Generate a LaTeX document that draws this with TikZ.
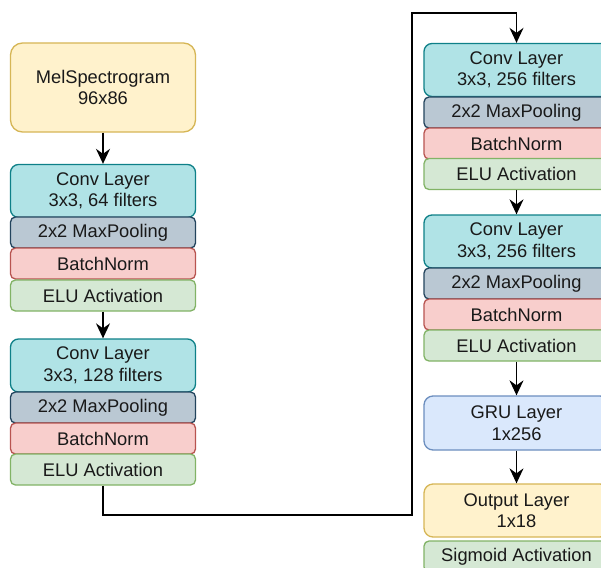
\documentclass[tikz,border=0pt]{standalone}
\usepackage{fontspec}
\setmainfont{Liberation Sans}
\usetikzlibrary{arrows.meta,positioning}

% draw.io style palette
\definecolor{ylwF}{HTML}{FFF2CC}\definecolor{ylwD}{HTML}{D6B656}
\definecolor{tealF}{HTML}{B0E3E6}\definecolor{tealD}{HTML}{0E8088}
\definecolor{slateF}{HTML}{BAC8D3}\definecolor{slateD}{HTML}{23445D}
\definecolor{redF}{HTML}{F8CECC}\definecolor{redD}{HTML}{B85450}
\definecolor{grnF}{HTML}{D5E8D4}\definecolor{grnD}{HTML}{82B366}
\definecolor{bluF}{HTML}{DAE8FC}\definecolor{bluD}{HTML}{6C8EBF}

\tikzset{
  layer/.style={draw, line width=1.3pt, minimum width=185pt, inner sep=0pt,
    align=center, text=black!90, font=\fontsize{18.3}{21.5}\selectfont},
  inputbox/.style={layer, fill=ylwF, draw=ylwD, minimum height=89pt, rounded corners=12pt},
  convbox/.style={layer, fill=tealF, draw=tealD, minimum height=53pt, rounded corners=8pt},
  poolbox/.style={layer, fill=slateF, draw=slateD, minimum height=31pt, rounded corners=5pt},
  normbox/.style={layer, fill=redF, draw=redD, minimum height=31pt, rounded corners=5pt},
  actbox/.style={layer, fill=grnF, draw=grnD, minimum height=31pt, rounded corners=5pt},
  grubox/.style={layer, fill=bluF, draw=bluD, minimum height=54pt, rounded corners=9pt},
  outbox/.style={layer, fill=ylwF, draw=ylwD, minimum height=53pt, rounded corners=9pt},
  link/.style={line width=1.5pt, -{Stealth[length=15pt,width=14pt,inset=5pt]}},
}

\begin{document}
\begin{tikzpicture}[x=1pt,y=-1pt]
\clip (0,0) rectangle (601,567);
\fill[white] (0,0) rectangle (601,567);

% left column
\node[inputbox] (mel) at (103,87.5) {MelSpectrogram\\96x86};
\node[convbox]  (c1)  at (103,191)   {Conv Layer\\3x3, 64 filters};
\node[poolbox]  (p1)  at (103,232.5) {2x2 MaxPooling};
\node[normbox]  (b1)  at (103,263.5) {BatchNorm};
\node[actbox]   (e1)  at (103,295.5) {ELU Activation};

\node[convbox]  (c2)  at (103,365.5) {Conv Layer\\3x3, 128 filters};
\node[poolbox]  (p2)  at (103,407.5) {2x2 MaxPooling};
\node[normbox]  (b2)  at (103,438.5) {BatchNorm};
\node[actbox]   (e2)  at (103,469.5) {ELU Activation};

% right column
\node[convbox]  (c3)  at (516.5,70)    {Conv Layer\\3x3, 256 filters};
\node[poolbox]  (p3)  at (516.5,112.5) {2x2 MaxPooling};
\node[normbox]  (b3)  at (516.5,143.5) {BatchNorm};
\node[actbox]   (e3)  at (516.5,174)   {ELU Activation};

\node[convbox]  (c4)  at (516.5,241.5) {Conv Layer\\3x3, 256 filters};
\node[poolbox]  (p4)  at (516.5,283.5) {2x2 MaxPooling};
\node[normbox]  (b4)  at (516.5,314.5) {BatchNorm};
\node[actbox]   (e4)  at (516.5,345.5) {ELU Activation};

\node[grubox]   (gru) at (516.5,423)   {GRU Layer\\1x256};
\node[outbox]   (out) at (516.5,510.5) {Output Layer\\1x18};
\node[actbox]   (sig) at (516.5,556.5) {Sigmoid Activation};

% connectors
\draw[link] (mel) -- (c1);
\draw[link] (e1) -- (c2);
\coordinate (t1) at (412,515);
\coordinate (t2) at (412,13);
\draw[link] (e2.south) |- (t1) -- (t2) -| (c3.north);
\draw[link] (e3) -- (c4);
\draw[link] (e4) -- (gru);
\draw[link] (gru) -- (out);
\end{tikzpicture}
\end{document}
